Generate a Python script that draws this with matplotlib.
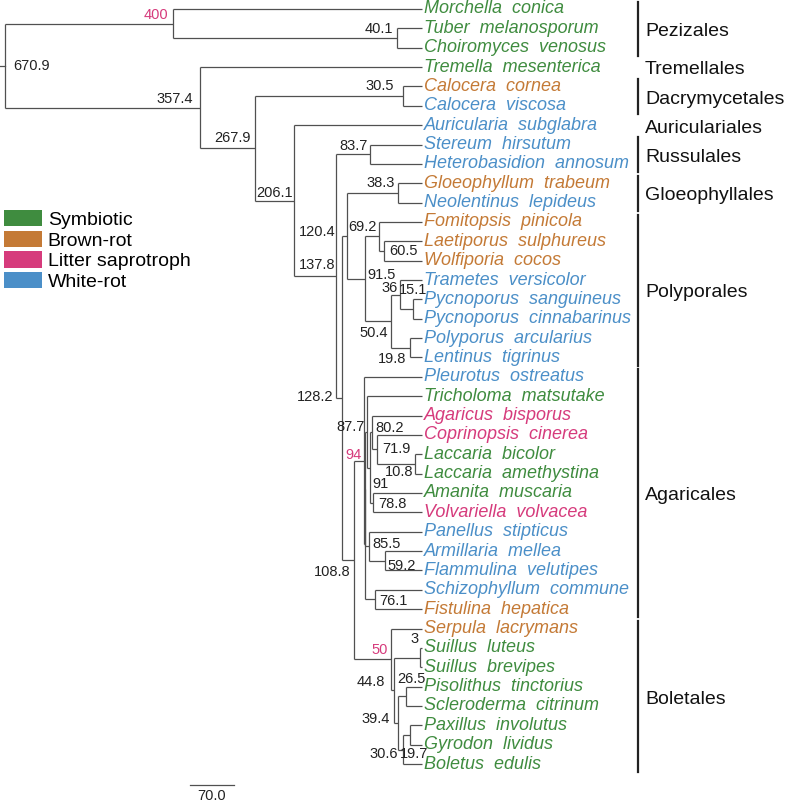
import matplotlib
matplotlib.use('Agg')
import matplotlib.pyplot as plt
from matplotlib.patches import Patch

plt.rcParams['font.family'] = ['Liberation Sans', 'DejaVu Sans']

# ---- data -------------------------------------------------------------
# internal nodes: key = age label shown on the tree ('u1'/'u2' are unlabelled)
children = {
    '670.9': ['400', '357.4'],
    '400': ['Morchella conica', '40.1'],
    '40.1': ['Tuber melanosporum', 'Choiromyces venosus'],
    '357.4': ['Tremella mesenterica', '267.9'],
    '267.9': ['30.5', '206.1'],
    '30.5': ['Calocera cornea', 'Calocera viscosa'],
    '206.1': ['Auricularia subglabra', '137.8'],
    '137.8': ['83.7', '128.2'],
    '83.7': ['Stereum hirsutum', 'Heterobasidion annosum'],
    '128.2': ['120.4', '108.8'],
    '120.4': ['38.3', '91.5'],
    '38.3': ['Gloeophyllum trabeum', 'Neolentinus lepideus'],
    '91.5': ['69.2', '50.4'],
    '69.2': ['Fomitopsis pinicola', '60.5'],
    '60.5': ['Laetiporus sulphureus', 'Wolfiporia cocos'],
    '50.4': ['36', '19.8'],
    '36': ['Trametes versicolor', '15.1'],
    '15.1': ['Pycnoporus sanguineus', 'Pycnoporus cinnabarinus'],
    '19.8': ['Polyporus arcularius', 'Lentinus tigrinus'],
    '108.8': ['94', '50'],
    '94': ['Pleurotus ostreatus', 'u1'],
    'u1': ['91', '76.1'],
    '91': ['87.7', '85.5'],
    '87.7': ['Tricholoma matsutake', 'u2'],
    'u2': ['80.2', '78.8'],
    '80.2': ['Agaricus bisporus', '71.9'],
    '71.9': ['Coprinopsis cinerea', '10.8'],
    '10.8': ['Laccaria bicolor', 'Laccaria amethystina'],
    '78.8': ['Amanita muscaria', 'Volvariella volvacea'],
    '85.5': ['Panellus stipticus', '59.2'],
    '59.2': ['Armillaria mellea', 'Flammulina velutipes'],
    '76.1': ['Schizophyllum commune', 'Fistulina hepatica'],
    '50': ['Serpula lacrymans', '44.8'],
    '44.8': ['3', '39.4'],
    '3': ['Suillus luteus', 'Suillus brevipes'],
    '39.4': ['26.5', '30.6'],
    '26.5': ['Pisolithus tinctorius', 'Scleroderma citrinum'],
    '30.6': ['19.7', 'Boletus edulis'],
    '19.7': ['Paxillus involutus', 'Gyrodon lividus'],
}
unlabelled_ages = {'u1': 92.5, 'u2': 84.0}
calibrated = ['400', '94', '50']

lifestyle = {
    'Morchella conica': 'Symbiotic', 'Tuber melanosporum': 'Symbiotic',
    'Choiromyces venosus': 'Symbiotic', 'Tremella mesenterica': 'Symbiotic',
    'Calocera cornea': 'Brown-rot', 'Calocera viscosa': 'White-rot',
    'Auricularia subglabra': 'White-rot', 'Stereum hirsutum': 'White-rot',
    'Heterobasidion annosum': 'White-rot', 'Gloeophyllum trabeum': 'Brown-rot',
    'Neolentinus lepideus': 'White-rot', 'Fomitopsis pinicola': 'Brown-rot',
    'Laetiporus sulphureus': 'Brown-rot', 'Wolfiporia cocos': 'Brown-rot',
    'Trametes versicolor': 'White-rot', 'Pycnoporus sanguineus': 'White-rot',
    'Pycnoporus cinnabarinus': 'White-rot', 'Polyporus arcularius': 'White-rot',
    'Lentinus tigrinus': 'White-rot', 'Pleurotus ostreatus': 'White-rot',
    'Tricholoma matsutake': 'Symbiotic', 'Agaricus bisporus': 'Litter saprotroph',
    'Coprinopsis cinerea': 'Litter saprotroph', 'Laccaria bicolor': 'Symbiotic',
    'Laccaria amethystina': 'Symbiotic', 'Amanita muscaria': 'Symbiotic',
    'Volvariella volvacea': 'Litter saprotroph', 'Panellus stipticus': 'White-rot',
    'Armillaria mellea': 'White-rot', 'Flammulina velutipes': 'White-rot',
    'Schizophyllum commune': 'White-rot', 'Fistulina hepatica': 'Brown-rot',
    'Serpula lacrymans': 'Brown-rot', 'Suillus luteus': 'Symbiotic',
    'Suillus brevipes': 'Symbiotic', 'Pisolithus tinctorius': 'Symbiotic',
    'Scleroderma citrinum': 'Symbiotic', 'Paxillus involutus': 'Symbiotic',
    'Gyrodon lividus': 'Symbiotic', 'Boletus edulis': 'Symbiotic',
}

# order name, first tip, last tip, draw bar
orders = [
    ('Pezizales', 'Morchella conica', 'Choiromyces venosus', True),
    ('Tremellales', 'Tremella mesenterica', 'Tremella mesenterica', False),
    ('Dacrymycetales', 'Calocera cornea', 'Calocera viscosa', True),
    ('Auriculariales', 'Auricularia subglabra', 'Auricularia subglabra', False),
    ('Russulales', 'Stereum hirsutum', 'Heterobasidion annosum', True),
    ('Gloeophyllales', 'Gloeophyllum trabeum', 'Neolentinus lepideus', True),
    ('Polyporales', 'Fomitopsis pinicola', 'Lentinus tigrinus', True),
    ('Agaricales', 'Pleurotus ostreatus', 'Fistulina hepatica', True),
    ('Boletales', 'Serpula lacrymans', 'Boletus edulis', True),
]

legend_labels = ['Symbiotic', 'Brown-rot', 'Litter saprotroph', 'White-rot']
scale_length = 70.0

# ---- style ------------------------------------------------------------
colors = {'Symbiotic': '#3f8c3f', 'Brown-rot': '#c47a36',
          'Litter saprotroph': '#d63b7c', 'White-rot': '#4b8fc8'}
line_color = '#505050'
PX = 0.6216          # pixels per Myr
ROW = 19.36          # pixels per tip row

# node label placement: (side, dx px, dy px downwards)
label_pos = {
    '670.9': ('left', 8, 0), '400': ('right', -5, -8.5), '40.1': ('right', -4, -9),
    '357.4': ('right', -7, -8.5), '30.5': ('right', -9, -10), '267.9': ('right', -5, -10),
    '206.1': ('right', -1, -8), '137.8': ('right', -1, -11.5), '120.4': ('right', -12, -4),
    '128.2': ('right', -9, -1), '83.7': ('right', -2, -8), '38.3': ('right', -3, -9.5),
    '69.2': ('right', -2, -9), '60.5': ('left', 5, 0.5), '91.5': ('left', 2, -4),
    '36': ('right', -2, -7), '15.1': ('center', 0, -19.5), '50.4': ('right', -3, 11.5),
    '19.8': ('right', -3, 11.5), '108.8': ('right', -4, 12.5), '94': ('right', -2, -6),
    '87.7': ('right', -2.5, -4.5), '80.2': ('left', 3, -4), '71.9': ('left', 5, 0),
    '10.8': ('right', -2, 8.5), '91': ('left', 6.5, -5), '78.8': ('left', 5, 1.5),
    '85.5': ('left', 4, -2), '59.2': ('left', 2, 5.5), '76.1': ('left', 5, 1.5),
    '50': ('right', -3, -9), '3': ('right', -2, -18.5), '26.5': ('center', 5.5, -17.5),
    '44.8': ('right', -9, -8), '39.4': ('right', -7.5, -4), '30.6': ('right', -5, 4.5),
    '19.7': ('center', 4, 19),
}


def age_of(node):
    if node in unlabelled_ages:
        return unlabelled_ages[node]
    if node in children:
        return float(node)
    return 0.0


tip_y = {}
node_y = {}


def place(node):
    if node not in children:
        tip_y[node] = len(tip_y)
        node_y[node] = tip_y[node]
        return node_y[node]
    ys = [place(c) for c in children[node]]
    node_y[node] = (ys[0] + ys[-1]) / 2
    return node_y[node]


place('670.9')

fig = plt.figure(figsize=(7.87, 8.02), dpi=100)
ax = fig.add_axes([0, 0, 1, 1])
ax.set_xlim(422 / PX, -(787 - 422) / PX)
ax.set_ylim((802 - 9) / ROW, -9 / ROW)
ax.axis('off')

# branches
for node, kids in children.items():
    a = age_of(node)
    ax.plot([a, a], [node_y[kids[0]], node_y[kids[-1]]], color=line_color, lw=0.9,
            solid_capstyle='butt')
    for c in kids:
        ax.plot([a, age_of(c)], [node_y[c], node_y[c]], color=line_color, lw=0.9,
                solid_capstyle='butt')
root_age = age_of('670.9')
ax.plot([root_age + 8, root_age], [node_y['670.9']] * 2, color=line_color, lw=0.9)

# node ages
for node in children:
    if node in unlabelled_ages:
        continue
    side, dx, dy = label_pos[node]
    ax.annotate(node, (age_of(node), node_y[node]), xytext=(dx, -dy),
                textcoords='offset pixels', ha=side, va='center', fontsize=10.5,
                color='#d63b7c' if node in calibrated else '#222222')

# tip names
for name, y in tip_y.items():
    ax.annotate(name.replace(' ', '  '), (0, y), xytext=(2, 0), textcoords='offset pixels',
                ha='left', va='center', fontsize=13, style='italic',
                color=colors[lifestyle[name]])

# order bars
x_bar = (422 - 638) / PX
x_txt = (422 - 645) / PX
for name, first, last, bar in orders:
    y0, y1 = tip_y[first], tip_y[last]
    if bar:
        ax.plot([x_bar, x_bar], [y0 - 0.38, y1 + 0.42], color='#222222', lw=1.6)
    ax.text(x_txt, (y0 + y1) / 2 + 0.15, name, ha='left', va='center', fontsize=14,
            color='#111111')

# scale bar
sb_x0 = (422 - 190) / PX
sb_y = (785 - 9) / ROW
ax.plot([sb_x0, sb_x0 - scale_length], [sb_y, sb_y], color=line_color, lw=0.9)
ax.text(sb_x0 - scale_length / 2, sb_y + 0.2, '%.1f' % scale_length, ha='center', va='top',
        fontsize=10.5, color='#222222')

# legend
handles = [Patch(facecolor=colors[k], edgecolor='none') for k in legend_labels]
fig.legend(handles, legend_labels, loc='upper left', bbox_to_anchor=(4 / 787, 1 - 210 / 802),
           frameon=False, fontsize=14, handlelength=1.95, handleheight=0.9,
           labelspacing=0.1, handletextpad=0.3, borderpad=0, borderaxespad=0)

fig.savefig('out.png', dpi=100)
